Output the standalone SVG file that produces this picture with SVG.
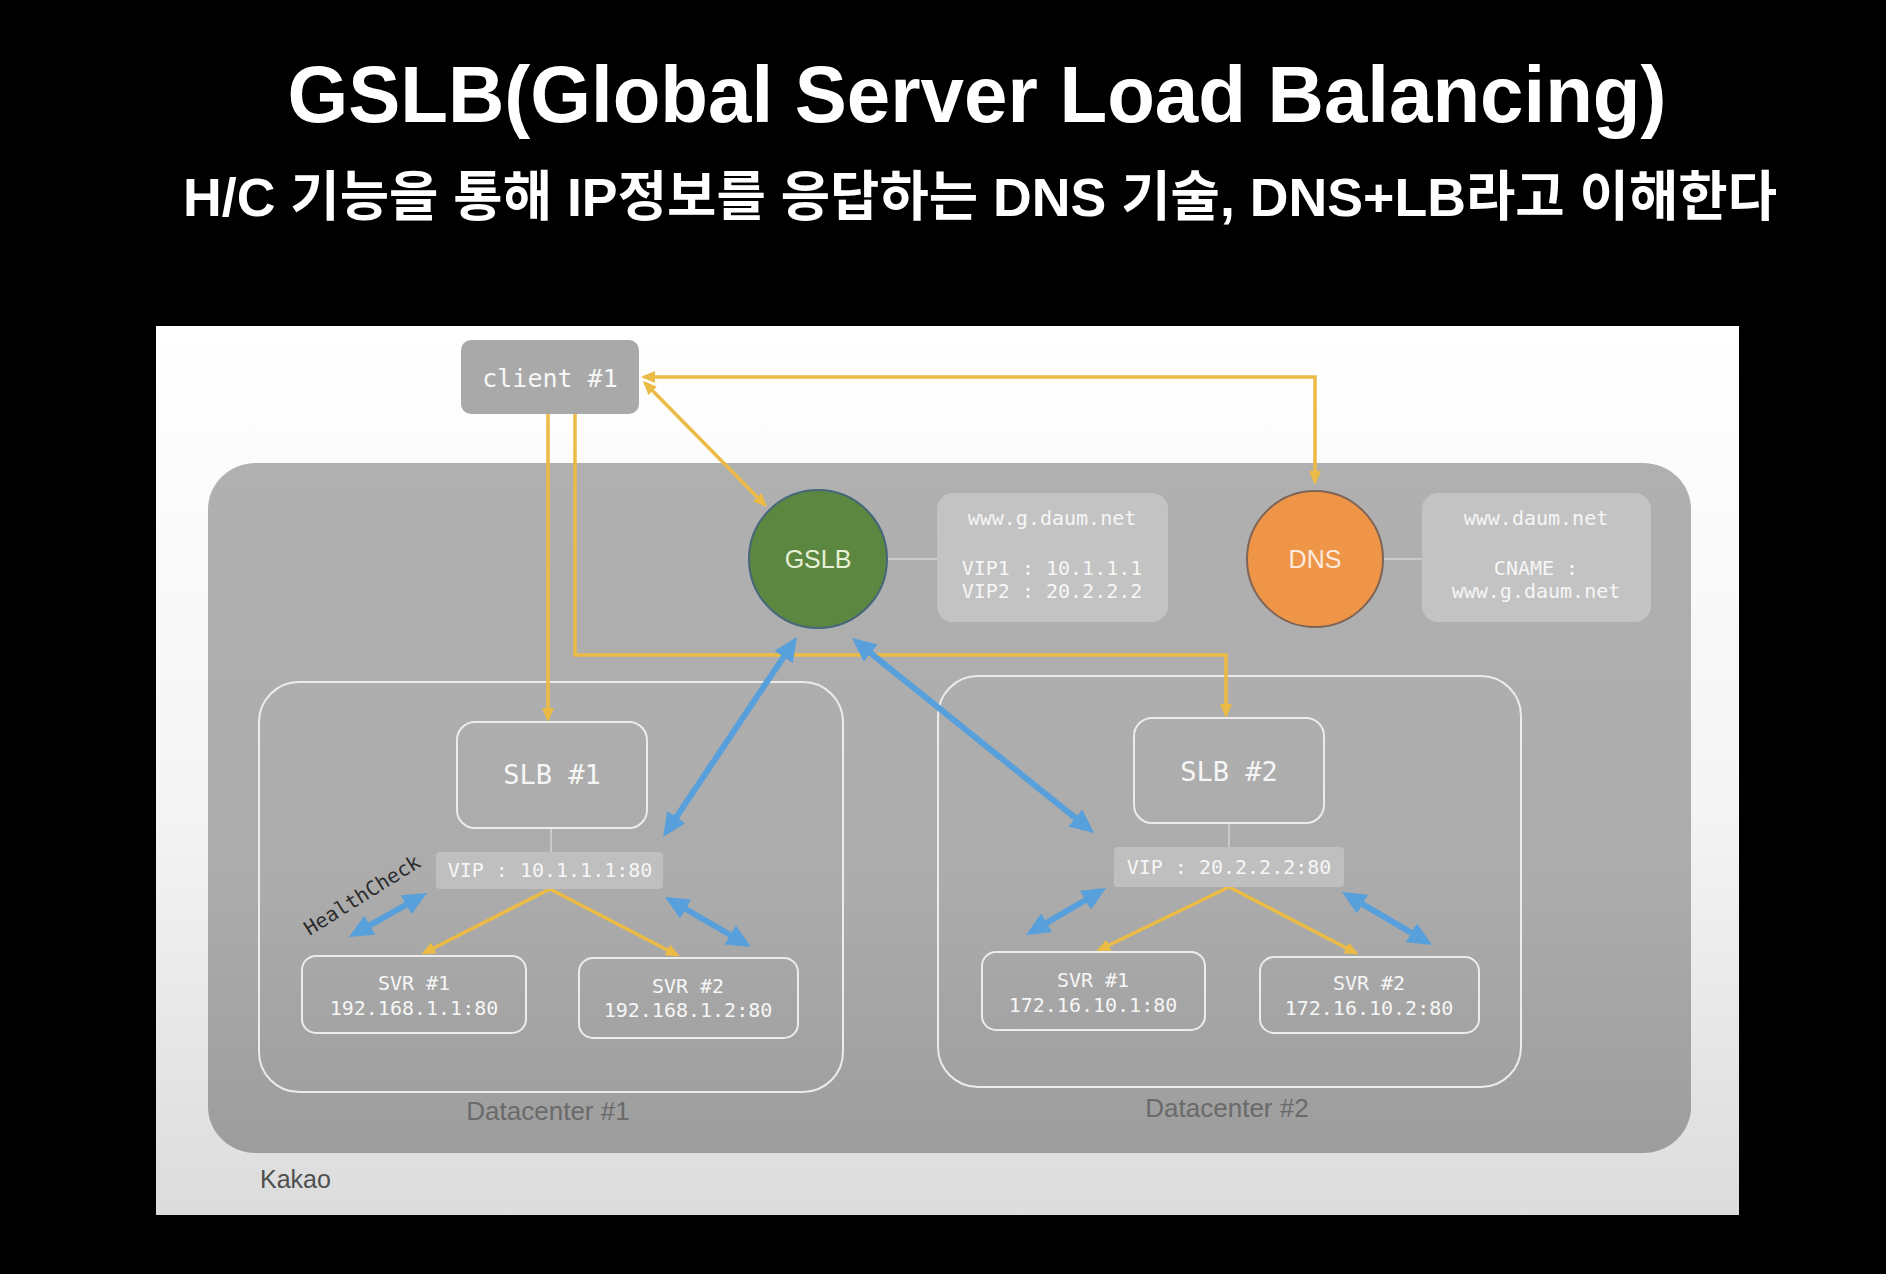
<svg xmlns="http://www.w3.org/2000/svg" width="1886" height="1274" viewBox="0 0 1886 1274">
  <defs>
    <linearGradient id="panelFill" x1="0" y1="0" x2="0" y2="1">
      <stop offset="0" stop-color="#ffffff"/>
      <stop offset="0.55" stop-color="#f4f4f4"/>
      <stop offset="1" stop-color="#dcdcdc"/>
    </linearGradient>
    <linearGradient id="zoneFill" x1="0" y1="0" x2="0" y2="1">
      <stop offset="0" stop-color="#b0b0b0"/>
      <stop offset="0.6" stop-color="#acacac"/>
      <stop offset="1" stop-color="#9d9d9d"/>
    </linearGradient>
    <marker id="ya" viewBox="0 0 14 12" markerWidth="14" markerHeight="12" refX="11" refY="6" orient="auto-start-reverse" markerUnits="userSpaceOnUse">
      <path d="M0,0 L14,6 L0,12 z" fill="#ecbb45"/>
    </marker>
    <marker id="ba" viewBox="0 0 24 22" markerWidth="24" markerHeight="22" refX="14" refY="11" orient="auto-start-reverse" markerUnits="userSpaceOnUse">
      <path d="M0,0 L24,11 L0,22 z" fill="#57a0dc"/>
    </marker>
  </defs>
  <style>
    .title { font-family: "Liberation Sans", "Noto Sans CJK KR", sans-serif; font-weight: bold; fill: #ffffff; }
    .mono { font-family: "DejaVu Sans Mono", "Liberation Mono", monospace; fill: #f6f6f6; text-anchor: middle; }
    .sans { font-family: "Liberation Sans", "Noto Sans", sans-serif; }
    .box { fill: none; stroke: #ececec; stroke-width: 2; }
    .info { fill: #c3c3c3; }
    .vip { fill: #bfbfbf; }
    .tie { stroke: #c9c9c9; stroke-width: 2; fill: none; }
    .yl { stroke: #ecbb45; stroke-width: 3.5; fill: none; }
    .bl { stroke: #57a0dc; stroke-width: 6; fill: none; }
  </style>

  <!-- page -->
  <rect x="0" y="0" width="1886" height="1274" fill="#000000"/>
  <text class="title" x="977" y="122" font-size="80" text-anchor="middle" textLength="1379" lengthAdjust="spacingAndGlyphs">GSLB(Global Server Load Balancing)</text>
  <text class="title" x="980" y="216" font-size="54" text-anchor="middle" textLength="1594" lengthAdjust="spacingAndGlyphs">H/C 기능을 통해 IP정보를 응답하는 DNS 기술, DNS+LB라고 이해한다</text>

  <!-- slide panel -->
  <rect x="156" y="326" width="1583" height="889" fill="url(#panelFill)"/>
  <g id="kakao-zone">
    <rect x="208" y="463" width="1483" height="690" rx="48" ry="46" fill="url(#zoneFill)"/>
    <text class="sans" x="260" y="1188" font-size="25" fill="#4f4f4f">Kakao</text>
  </g>

  <!-- datacenters -->
  <g id="datacenter-1">
    <rect class="box" x="259" y="682" width="584" height="410" rx="40"/>
    <text class="sans" x="548" y="1120" font-size="26" fill="#6a6a6a" text-anchor="middle">Datacenter #1</text>
  </g>
  <g id="datacenter-2">
    <rect class="box" x="938" y="676" width="583" height="411" rx="40"/>
    <text class="sans" x="1227" y="1117" font-size="26" fill="#6a6a6a" text-anchor="middle">Datacenter #2</text>
  </g>

  <!-- connectors -->
  <g id="connectors">
    <line class="tie" x1="887" y1="559" x2="937" y2="559"/>
    <line class="tie" x1="1383" y1="559" x2="1422" y2="559"/>
    <line class="tie" x1="551" y1="828" x2="551" y2="852"/>
    <line class="tie" x1="1229" y1="823" x2="1229" y2="847"/>

    <path class="yl" d="M548,414 V719" marker-end="url(#ya)"/>
    <path class="yl" d="M575,414 V655 H1226 V715" marker-end="url(#ya)"/>
    <path class="yl" d="M644,377 H1315 V482" marker-start="url(#ya)" marker-end="url(#ya)"/>
    <path class="yl" d="M645,383 L765,505" marker-start="url(#ya)" marker-end="url(#ya)"/>
    <path class="yl" d="M550,889 L424,953" marker-end="url(#ya)"/>
    <path class="yl" d="M550,889 L677,955" marker-end="url(#ya)"/>
    <path class="yl" d="M1229,887 L1099,950" marker-end="url(#ya)"/>
    <path class="yl" d="M1229,887 L1356,953" marker-end="url(#ya)"/>

    <path class="bl" d="M791.4,645.3 L668.6,828.7" marker-start="url(#ba)" marker-end="url(#ba)"/>
    <path class="bl" d="M859.8,644.3 L1086.2,826.7" marker-start="url(#ba)" marker-end="url(#ba)"/>
    <path class="bl" d="M357.7,932.1 L418.3,897.9" marker-start="url(#ba)" marker-end="url(#ba)"/>
    <path class="bl" d="M673.6,902 L742.4,942" marker-start="url(#ba)" marker-end="url(#ba)"/>
    <path class="bl" d="M1034.6,929.9 L1097.4,893.1" marker-start="url(#ba)" marker-end="url(#ba)"/>
    <path class="bl" d="M1350.6,897.1 L1423.4,939.9" marker-start="url(#ba)" marker-end="url(#ba)"/>
    <text x="362" y="902" font-family="DejaVu Sans Mono, Liberation Mono, monospace" font-size="20" fill="#2a2a2a" text-anchor="middle" transform="rotate(-32 362 895)">HealthCheck</text>
  </g>

  <!-- nodes -->
  <g id="client-1">
    <rect x="461" y="340" width="178" height="74" rx="10" fill="#a9a9a9"/>
    <text class="mono" x="550" y="387" font-size="25">client #1</text>
  </g>

  <g id="gslb">
    <circle cx="818" cy="559" r="69" fill="#5c8741" stroke="#46667a" stroke-width="2"/>
    <text class="sans" x="818" y="568" font-size="25" fill="#e6f0d6" text-anchor="middle">GSLB</text>
  </g>
  <g id="gslb-records">
    <rect class="info" x="937" y="493" width="231" height="129" rx="16"/>
    <text class="mono" x="1052" y="525" font-size="20">www.g.daum.net</text>
    <text class="mono" x="1052" y="575" font-size="20">VIP1 : 10.1.1.1</text>
    <text class="mono" x="1052" y="598" font-size="20">VIP2 : 20.2.2.2</text>
  </g>

  <g id="dns">
    <circle cx="1315" cy="559" r="68" fill="#ef9548" stroke="#7e6456" stroke-width="2"/>
    <text class="sans" x="1315" y="568" font-size="25" fill="#fcebdc" text-anchor="middle">DNS</text>
  </g>
  <g id="dns-records">
    <rect class="info" x="1422" y="493" width="229" height="129" rx="16"/>
    <text class="mono" x="1536" y="525" font-size="20">www.daum.net</text>
    <text class="mono" x="1536" y="575" font-size="20">CNAME :</text>
    <text class="mono" x="1536" y="598" font-size="20">www.g.daum.net</text>
  </g>

  <g id="slb-1">
    <rect class="box" x="457" y="722" width="190" height="106" rx="18"/>
    <text class="mono" x="552" y="784" font-size="27">SLB #1</text>
  </g>
  <g id="vip-1">
    <rect class="vip" x="436" y="852" width="227" height="37" rx="4"/>
    <text class="mono" x="550" y="877" font-size="20">VIP : 10.1.1.1:80</text>
  </g>
  <g id="dc1-svr-1">
    <rect class="box" x="302" y="956" width="224" height="77" rx="14"/>
    <text class="mono" x="414" y="990" font-size="20">SVR #1</text>
    <text class="mono" x="414" y="1015" font-size="20">192.168.1.1:80</text>
  </g>
  <g id="dc1-svr-2">
    <rect class="box" x="579" y="958" width="219" height="80" rx="14"/>
    <text class="mono" x="688" y="993" font-size="20">SVR #2</text>
    <text class="mono" x="688" y="1017" font-size="20">192.168.1.2:80</text>
  </g>

  <g id="slb-2">
    <rect class="box" x="1134" y="718" width="190" height="105" rx="18"/>
    <text class="mono" x="1229" y="781" font-size="27">SLB #2</text>
  </g>
  <g id="vip-2">
    <rect class="vip" x="1114" y="847" width="230" height="40" rx="4"/>
    <text class="mono" x="1229" y="874" font-size="20">VIP : 20.2.2.2:80</text>
  </g>
  <g id="dc2-svr-1">
    <rect class="box" x="982" y="952" width="223" height="78" rx="14"/>
    <text class="mono" x="1093" y="987" font-size="20">SVR #1</text>
    <text class="mono" x="1093" y="1012" font-size="20">172.16.10.1:80</text>
  </g>
  <g id="dc2-svr-2">
    <rect class="box" x="1260" y="957" width="219" height="76" rx="14"/>
    <text class="mono" x="1369" y="990" font-size="20">SVR #2</text>
    <text class="mono" x="1369" y="1015" font-size="20">172.16.10.2:80</text>
  </g>
</svg>
